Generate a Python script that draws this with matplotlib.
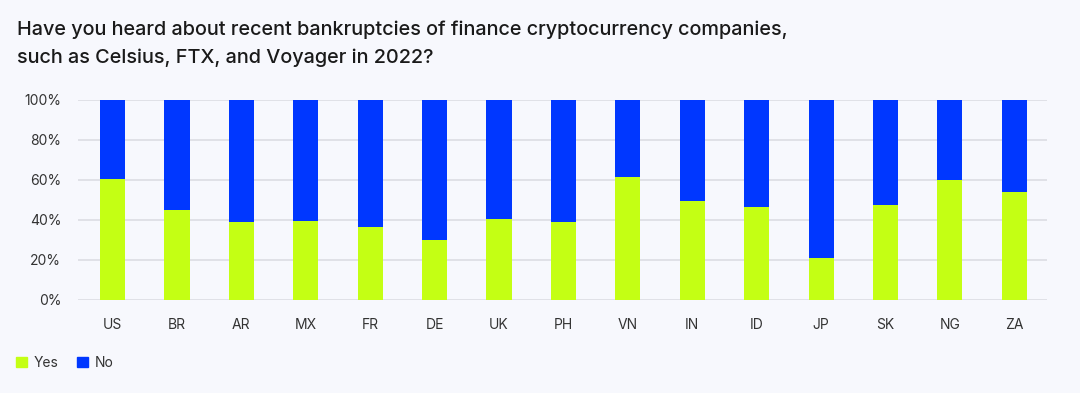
import matplotlib
matplotlib.use("Agg")

import numpy as np
import matplotlib.pyplot as plt
from matplotlib.patches import Patch

countries = ["US", "BR", "AR", "MX", "FR", "DE", "UK", "PH", "VN", "IN",
             "ID", "JP", "SK", "NG", "ZA"]
yes = [60.3, 45.0, 38.7, 39.3, 36.5, 29.8, 40.2, 39.0, 61.5, 49.3,
       46.2, 20.7, 47.5, 59.7, 53.8]
no = [100 - v for v in yes]

bg = "#f7f8fd"
c_yes = "#c4ff14"
c_no = "#0037ff"

plt.rcParams["font.family"] = ["Inter", "DejaVu Sans"]

fig = plt.figure(figsize=(10.8, 3.93), dpi=100, facecolor=bg)
ax = fig.add_axes([0.072, 0.237, 0.897, 0.509], facecolor=bg)

x = np.arange(len(countries))
ax.bar(x, yes, width=0.39, color=c_yes, zorder=3)
ax.bar(x, no, bottom=yes, width=0.39, color=c_no, zorder=3)

ax.set_xlim(-0.54, len(countries) - 1 + 0.5)
ax.set_ylim(0, 100)
ax.set_yticks([0, 20, 40, 60, 80, 100])
ax.set_yticklabels([f"{v}%" for v in [0, 20, 40, 60, 80, 100]])
ax.set_xticks(x)
ax.set_xticklabels(countries)
ax.grid(axis="y", color="#dcdde3", linewidth=1.2, zorder=0)
ax.tick_params(length=0, labelsize=10, colors="#333333")
ax.tick_params(axis="x", pad=13)
ax.tick_params(axis="y", pad=12)
for s in ax.spines.values():
    s.set_visible(False)

fig.text(0.016, 0.925, "Have you heard about recent bankruptcies of finance cryptocurrency companies,",
         fontsize=14.3, fontweight="medium", color="#1a1a1a", va="center")
fig.text(0.016, 0.852, "such as Celsius, FTX, and Voyager in 2022?",
         fontsize=14.3, fontweight="medium", color="#1a1a1a", va="center")

handles = [Patch(color=c_yes, label="Yes"), Patch(color=c_no, label="No")]
fig.legend(handles=handles, loc="center left", bbox_to_anchor=(0.003, 0.077),
           ncol=2, frameon=False, fontsize=10, handlelength=0.8, handleheight=0.8,
           handletextpad=0.5, columnspacing=1.3, labelcolor="#333333")

fig.savefig("out.png", dpi=100, facecolor=bg)
